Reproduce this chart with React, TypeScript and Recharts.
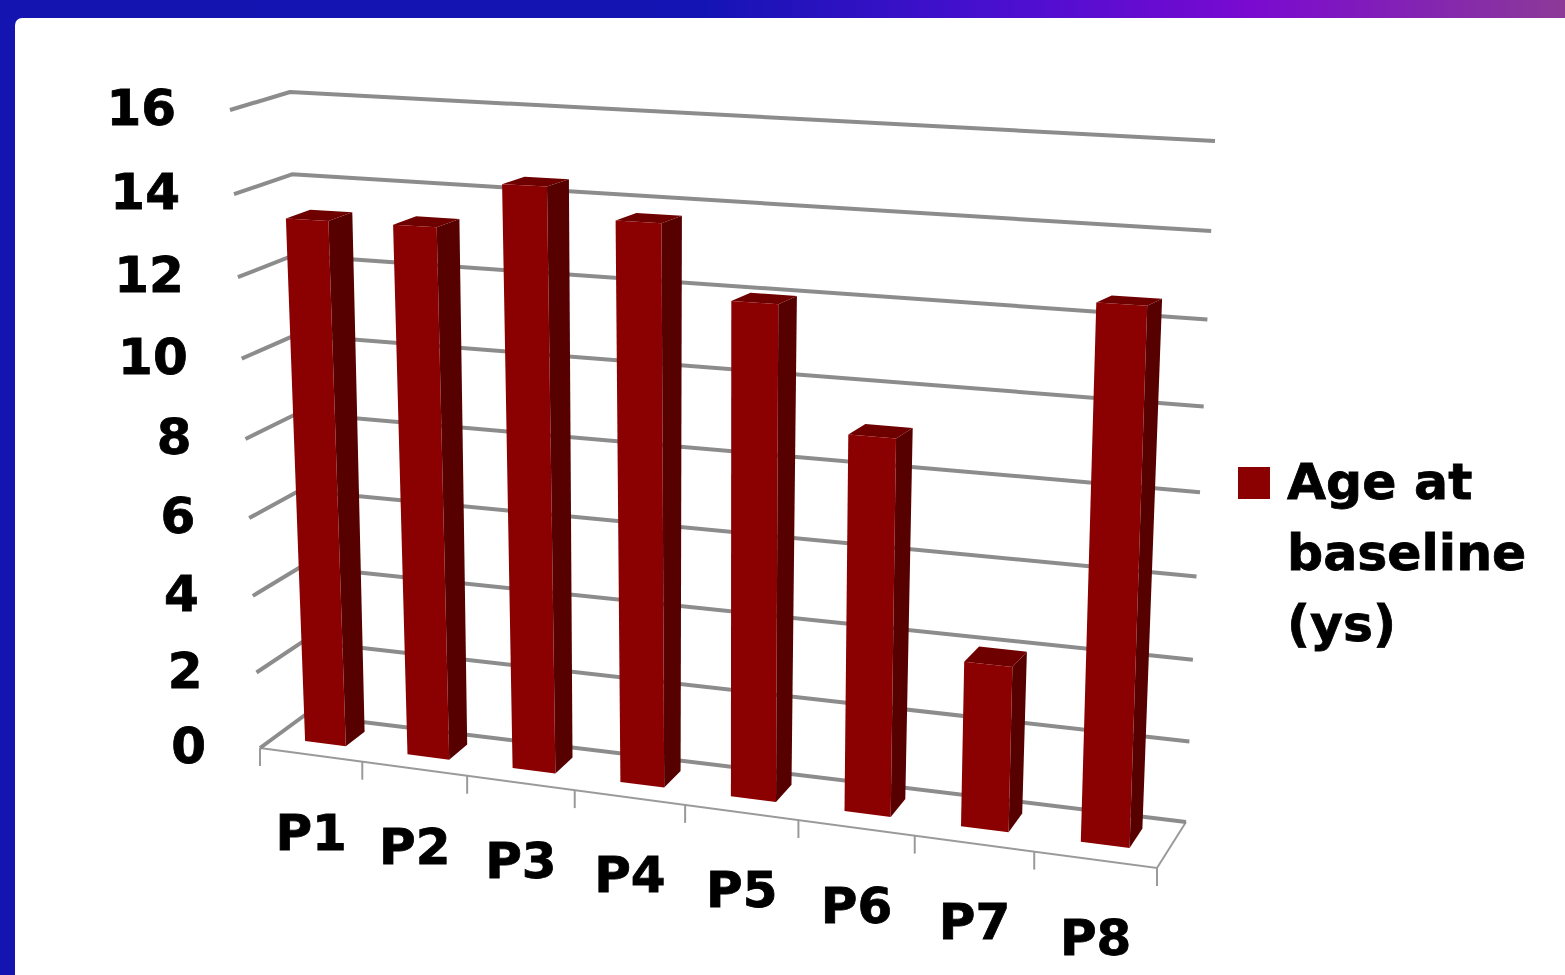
import { Bar, BarChart, CartesianGrid, Legend, XAxis, YAxis } from 'recharts';

const patients = ['P1', 'P2', 'P3', 'P4', 'P5', 'P6', 'P7', 'P8'];
const ages = [13.3, 13.3, 14.4, 13.7, 12, 9.1, 4, 12.5];
const valueTicks = [0, 2, 4, 6, 8, 10, 12, 14, 16];
const seriesName = 'Age at baseline (ys)';

const chartData = patients.map((name, i) => ({ name, age: ages[i] }));

// flat plot rectangle handed to recharts; every mark is projected out of it
const plot = { left: 100, top: 100, width: 800, height: 640 };

type Pt = [number, number];

// corners of the 3D box: f = front, b = back, L/R = side, 0/T = floor/top
const box = {
  f0L: [260, 748] as Pt,
  fTL: [230, 110] as Pt,
  b0L: [305, 715] as Pt,
  bTL: [290, 92] as Pt,
  f0R: [1157, 868] as Pt,
  fTR: [1180, 148] as Pt,
  b0R: [1186, 822] as Pt,
  bTR: [1215, 141] as Pt,
};

const lerp = (a: number, b: number, t: number) => a + (b - a) * t;
const mix = (a: Pt, b: Pt, t: number): Pt => [lerp(a[0], b[0], t), lerp(a[1], b[1], t)];

// foreshortening: categories widen to the right, value steps widen upward
const warp = (t: number, r: number) => t / (t + r * (1 - t));

function project(u: number, v: number, d: number): Pt {
  const t = warp(u, 1.11);
  const floor = mix(mix(box.f0L, box.f0R, t), mix(box.b0L, box.b0R, t), d);
  const top = mix(mix(box.fTL, box.fTR, t), mix(box.bTL, box.bTR, t), d);
  return mix(floor, top, warp(v, 1.065));
}

const toU = (x: number) => (x - plot.left) / plot.width;
const toV = (y: number) => (plot.top + plot.height - y) / plot.height;
const pts = (list: Pt[]) => list.map((p) => `${p[0].toFixed(1)},${p[1].toFixed(1)}`).join(' ');

const font = '"DejaVu Sans", sans-serif';
const barDepth = [0.33, 0.76];

function Bar3D(props: any) {
  const { x, y, width, height } = props;
  const u0 = toU(x);
  const u1 = toU(x + width);
  const vTop = toV(y);
  const vBase = toV(y + height);
  const [d0, d1] = barDepth;
  const front = [project(u0, vBase, d0), project(u1, vBase, d0), project(u1, vTop, d0), project(u0, vTop, d0)];
  const side = [project(u1, vBase, d0), project(u1, vBase, d1), project(u1, vTop, d1), project(u1, vTop, d0)];
  const top = [project(u0, vTop, d0), project(u1, vTop, d0), project(u1, vTop, d1), project(u0, vTop, d1)];
  return (
    <g>
      <polygon points={pts(side)} fill="#560000" />
      <polygon points={pts(top)} fill="#6e0000" />
      <polygon points={pts(front)} fill="#8b0000" />
    </g>
  );
}

// side wall + back wall gridline, plus the floor outline at zero
function WallLine(props: any) {
  const v = toV(props.y1);
  const wall = [project(0, v, 0), project(0, v, 1), project(1, v, 1)];
  return (
    <g key={props.key ?? props.index}>
      {Math.abs(v) < 1e-6 && (
        <polyline
          points={pts([project(0, 0, 0), project(1, 0, 0), project(1, 0, 1)])}
          fill="none"
          stroke="#9a9a9a"
          strokeWidth={2}
        />
      )}
      <polyline points={pts(wall)} fill="none" stroke="#8c8c8c" strokeWidth={4} strokeLinejoin="round" />
    </g>
  );
}

function ValueTick(props: any) {
  const [x, y] = project(0, toV(props.y), 0);
  return (
    <text
      x={x - 54}
      y={y - 2}
      textAnchor="end"
      dominantBaseline="central"
      fontFamily={font}
      fontWeight={700}
      fontSize={50}
      fill="#000"
      stroke="#000"
      strokeWidth={0.8}
    >
      {props.payload.value}
    </text>
  );
}

function PatientTick(props: any) {
  const u = toU(props.x);
  const half = 1 / patients.length / 2;
  const [lx, ly] = project(u - half, 0, 0);
  const [rx, ry] = project(u + half, 0, 0);
  const cx = (lx + rx) / 2;
  const cy = (ly + ry) / 2;
  const isLast = props.index === patients.length - 1;
  return (
    <g>
      <line x1={lx} y1={ly} x2={lx} y2={ly + 18} stroke="#9a9a9a" strokeWidth={2} />
      {isLast && <line x1={rx} y1={ry} x2={rx} y2={ry + 18} stroke="#9a9a9a" strokeWidth={2} />}
      <text
        x={cx}
        y={cy + 78}
        textAnchor="middle"
        dominantBaseline="central"
        fontFamily={font}
        fontWeight={700}
        fontSize={50}
        fill="#000"
        stroke="#000"
        strokeWidth={0.8}
      >
        {props.payload.value}
      </text>
    </g>
  );
}

function LegendBox() {
  return (
    <div
      style={{
        display: 'flex',
        alignItems: 'flex-start',
        fontFamily: font,
        fontWeight: 700,
        fontSize: 50.5,
        lineHeight: '71px',
        color: '#000',
        WebkitTextStroke: '0.8px #000',
      }}
    >
      <span style={{ width: 32, height: 32, background: '#8b0000', marginTop: 21, marginRight: 17, flexShrink: 0 }} />
      <span style={{ width: 270 }}>{seriesName}</span>
    </div>
  );
}

export default function App() {
  return (
    <div style={{ position: 'absolute', left: 0, top: 0, width: 1565, height: 975, overflow: 'hidden', background: '#1414b0' }}>
      <div
        style={{
          position: 'absolute',
          left: 0,
          top: 0,
          width: 1565,
          height: 18,
          background: 'linear-gradient(90deg, #1414b0 0%, #1414b4 45%, #4a0fd0 64%, #7a0ad0 80%, #8c3a98 100%)',
        }}
      />
      <div style={{ position: 'absolute', left: 15, top: 18, width: 1550, height: 957, background: '#fff', borderTopLeftRadius: 7 }} />
      <div style={{ position: 'absolute', left: 0, top: 0 }}>
        <BarChart
          width={1565}
          height={975}
          data={chartData}
          margin={{ left: plot.left - 1, top: plot.top, right: 1565 - plot.left - plot.width, bottom: 975 - plot.top - plot.height - 1 }}
          barCategoryGap="30%"
        >
          <CartesianGrid vertical={false} horizontal={WallLine} />
          <XAxis dataKey="name" height={1} axisLine={false} tickLine={false} interval={0} tick={PatientTick} />
          <YAxis width={1} domain={[0, 16]} ticks={valueTicks} axisLine={false} tickLine={false} interval={0} tick={ValueTick} />
          <Legend
            layout="horizontal"
            verticalAlign="middle"
            content={LegendBox}
            wrapperStyle={{ left: 1238, top: 446, width: 320, bottom: 'auto', right: 'auto' }}
          />
          <Bar dataKey="age" name={seriesName} shape={Bar3D} isAnimationActive={false} />
        </BarChart>
      </div>
    </div>
  );
}
